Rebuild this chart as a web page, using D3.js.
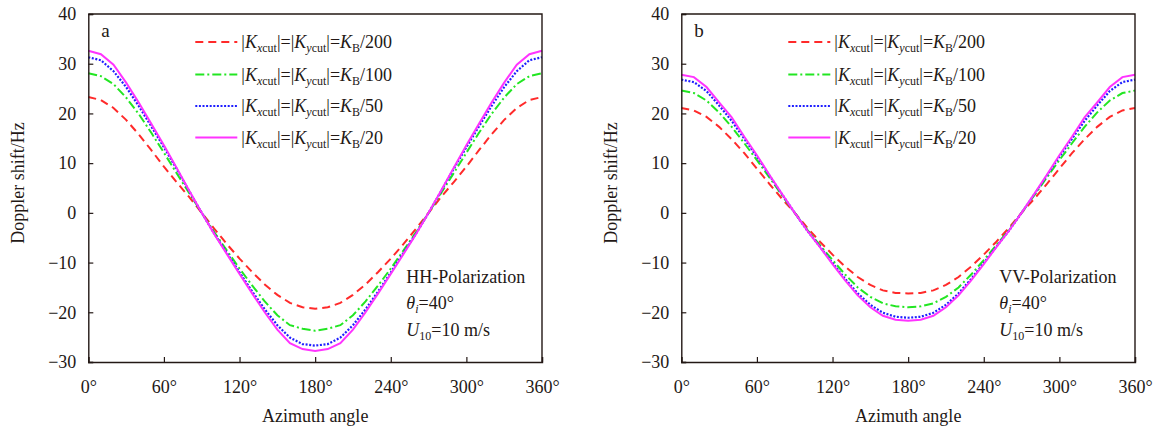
<!DOCTYPE html>
<html><head><meta charset="utf-8">
<script src="https://cdn.jsdelivr.net/npm/d3@7/dist/d3.min.js"></script>
<style>body{margin:0;background:#fff}svg{display:block}</style>
</head><body><svg id="c" width="1155" height="431"></svg>
<script>
const angles = d3.range(0, 361, 10);
const xTicks = [0, 60, 120, 180, 240, 300, 360];
const yTicks = [-30, -20, -10, 0, 10, 20, 30, 40];
const denominators = ["200", "100", "50", "20"];
const seriesColors = ["#ff2a2a", "#22e622", "#1f1fff", "#ff33ff"];
const seriesDash = ["8,5", "9,3,2,3", "2,1.6", null];

// Panel a (HH)
const aRed   = [23.3,22.7,21.1,18.7,15.8,12.6,9.3,6.2,3.2,0,-3.2,-6.3,-9.2,-11.9,-14.4,-16.5,-18.1,-19.0,-19.3,-19.0,-18.1,-16.5,-14.4,-11.9,-9.2,-6.3,-3.2,0,3.2,6.2,9.3,12.6,15.8,18.7,21.1,22.7,23.3];
const aGreen = [28.1,27.5,25.9,23.2,19.9,16.1,12.1,8.0,4.0,0,-3.9,-7.6,-11.2,-14.6,-17.8,-20.6,-22.6,-23.3,-23.7,-23.3,-22.6,-20.6,-17.8,-14.6,-11.2,-7.6,-3.9,0,4.0,8.0,12.1,16.1,19.9,23.2,25.9,27.5,28.1];
const aBlue  = [31.3,30.7,28.5,25.3,21.5,17.4,13.2,8.9,4.4,0,-4.2,-8.1,-12.0,-15.8,-19.4,-22.6,-25.1,-26.4,-26.7,-26.4,-25.1,-22.6,-19.4,-15.8,-12.0,-8.1,-4.2,0,4.4,8.9,13.2,17.4,21.5,25.3,28.5,30.7,31.3];
const aMag   = [32.6,31.9,29.8,26.2,22.2,17.9,13.6,9.1,4.5,0,-4.3,-8.3,-12.3,-16.2,-20.0,-23.5,-26.2,-27.4,-27.8,-27.4,-26.2,-23.5,-20.0,-16.2,-12.3,-8.3,-4.3,0,4.5,9.1,13.6,17.9,22.2,26.2,29.8,31.9,32.6];
// Panel b (VV)
const bRed   = [21.1,20.6,19.3,17.3,14.8,12.0,8.9,5.8,2.8,0,-3.0,-5.8,-8.4,-10.8,-12.9,-14.5,-15.6,-16.1,-16.2,-16.1,-15.6,-14.5,-12.9,-10.8,-8.4,-5.8,-3.0,0,2.8,5.8,8.9,12.0,14.8,17.3,19.3,20.6,21.1];
const bGreen = [24.6,24.1,22.6,20.2,17.3,14.0,10.6,7.1,3.5,0,-3.4,-6.5,-9.5,-12.4,-15.0,-16.9,-18.2,-18.8,-19.0,-18.8,-18.2,-16.9,-15.0,-12.4,-9.5,-6.5,-3.4,0,3.5,7.1,10.6,14.0,17.3,20.2,22.6,24.1,24.6];
const bBlue  = [26.8,26.3,24.5,21.6,18.5,14.9,11.3,7.5,3.7,0,-3.6,-6.8,-10.1,-13.3,-16.2,-18.5,-20.1,-20.9,-21.1,-20.9,-20.1,-18.5,-16.2,-13.3,-10.1,-6.8,-3.6,0,3.7,7.5,11.3,14.9,18.5,21.6,24.5,26.3,26.8];
const bMag   = [27.8,27.3,25.3,22.2,19.2,15.3,11.6,7.6,3.8,0,-3.6,-6.9,-10.3,-13.6,-16.6,-19.0,-20.7,-21.5,-21.7,-21.5,-20.7,-19.0,-16.6,-13.6,-10.3,-6.9,-3.6,0,3.8,7.6,11.6,15.3,19.2,22.2,25.3,27.3,27.8];

const panels = [
  {left: 88.3, tag: "a", pol: "HH-Polarization", series: [aRed, aGreen, aBlue, aMag]},
  {left: 681.3, tag: "b", pol: "VV-Polarization", series: [bRed, bGreen, bBlue, bMag]}
];

const FONT = "'Liberation Serif','Times New Roman',serif";
const INK = "#231815";
const plotTop = 14, W = 453.7, H = 348;
const svg = d3.select("#c");

panels.forEach(p => {
  const g = svg.append("g").attr("transform", `translate(${p.left},${plotTop})`);
  const x = d3.scaleLinear().domain([0, 360]).range([0, W]);
  const y = d3.scaleLinear().domain([-30, 40]).range([H, 0]);

  // lines
  const line = d3.line().x((d, i) => x(angles[i])).y(d => y(d));
  p.series.forEach((s, k) => {
    g.append("path").datum(s).attr("d", line).attr("fill", "none")
      .attr("stroke", seriesColors[k]).attr("stroke-width", k === 2 ? 2.2 : 2)
      .attr("stroke-dasharray", seriesDash[k]);
  });

  // axes
  const yAxis = d3.axisLeft(y).tickValues(yTicks).tickSize(-5).tickPadding(12);
  const xAxis = d3.axisBottom(x).tickValues(xTicks).tickSize(-5).tickPadding(18).tickFormat(d => d + "°");
  const ya = g.append("g").call(yAxis);
  const xa = g.append("g").attr("transform", `translate(0,${H})`).call(xAxis);
  [ya, xa].forEach(a => {
    a.select(".domain").attr("stroke", INK).attr("stroke-width", 1.4);
    a.selectAll(".tick line").attr("stroke", INK).attr("stroke-width", 1.2);
    a.selectAll(".tick text").attr("fill", INK).style("font-family", FONT).style("font-size", "18px");
  });
  // frame top/right
  g.append("path").attr("d", `M0,0H${W}V${H}`).attr("fill", "none").attr("stroke", INK).attr("stroke-width", 1.4);

  // titles
  g.append("text").attr("x", W / 2).attr("y", 408).attr("text-anchor", "middle")
    .style("font-family", FONT).style("font-size", "18px").attr("fill", INK).text("Azimuth angle");
  g.append("text").attr("transform", `translate(-64,${169}) rotate(-90)`).attr("text-anchor", "middle")
    .style("font-family", FONT).style("font-size", "18px").attr("fill", INK).text("Doppler shift/Hz");

  // panel tag
  g.append("text").attr("x", 13).attr("y", 23).style("font-family", FONT).style("font-size", "19px")
    .attr("fill", INK).text(p.tag);

  // legend
  const lg = g.append("g").attr("transform", "translate(107,0)");
  const rowY = [28, 60.5, 92, 123.5];
  denominators.forEach((den, k) => {
    lg.append("line").attr("x1", 0).attr("x2", 42).attr("y1", rowY[k]).attr("y2", rowY[k])
      .attr("stroke", seriesColors[k]).attr("stroke-width", k === 2 ? 2.2 : 2)
      .attr("stroke-dasharray", seriesDash[k]);
    const t = lg.append("text").attr("x", 46).attr("y", rowY[k] + 6)
      .style("font-family", FONT).style("font-size", "18px").attr("fill", INK);
    const sub = (txt1, txt2) => {
      t.append("tspan").attr("font-style", "italic").text("K");
      t.append("tspan").attr("font-style", "italic").attr("font-size", "12px").attr("dy", 4).text(txt1);
      t.append("tspan").attr("font-size", "12px").text(txt2);
    };
    t.append("tspan").text("|");
    sub("x", "cut");
    t.append("tspan").attr("dy", -4).text("|=|");
    sub("y", "cut");
    t.append("tspan").attr("dy", -4).text("|=");
    t.append("tspan").attr("font-style", "italic").text("K");
    t.append("tspan").attr("font-size", "12px").attr("dy", 4).text("B");
    t.append("tspan").attr("dy", -4).text("/" + den);
  });

  // annotation
  const ax = 318;
  const an = g.append("g").style("font-family", FONT).style("font-size", "18px").attr("fill", INK);
  an.append("text").attr("x", ax).attr("y", 269).text(p.pol);
  const t2 = an.append("text").attr("x", ax).attr("y", 295);
  t2.append("tspan").attr("font-style", "italic").text("θ");
  t2.append("tspan").attr("font-style", "italic").attr("font-size", "12px").attr("dy", 4).text("i");
  t2.append("tspan").attr("dy", -4).text("=40°");
  const t3 = an.append("text").attr("x", ax).attr("y", 322);
  t3.append("tspan").attr("font-style", "italic").text("U");
  t3.append("tspan").attr("font-size", "12px").attr("dy", 4).text("10");
  t3.append("tspan").attr("dy", -4).text("=10 m/s");
});
</script></body></html>
